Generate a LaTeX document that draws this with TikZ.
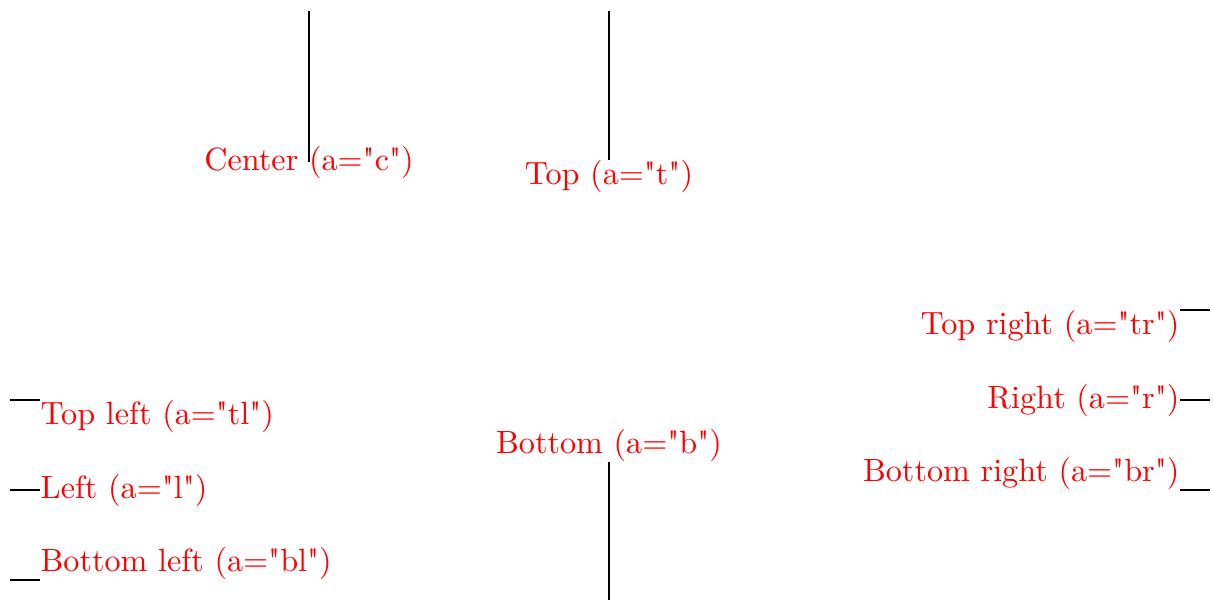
\documentclass[tikz,border=0pt]{standalone}
\usepackage{fontspec}
\newfontfamily\lmplain{lmroman10-regular}[Extension=.otf]
\tikzset{lbl/.style={text=red,inner sep=0pt,scale=0.916,transform shape,font=\lmplain}}
\begin{document}
\begin{tikzpicture}[x=0.1mm,y=-0.1mm]
  \useasboundingbox (0,0) rectangle (1213,602);

  % vertical anchors
  \node[lbl,anchor=center] (ctr) at (309,162) {Center (a="c")};
  \coordinate (ctrend) at (309,11);
  \draw (ctrend) to (ctr.center);

  \node[lbl,anchor=north] (top) at (609,160) {Top (a="t")};
  \coordinate (topend) at (609,11);
  \draw (topend) to (top.north);

  \node[lbl,anchor=south] (bot) at (609,462) {Bottom (a="b")};
  \coordinate (botend) at (609,600);
  \draw (botend) to (bot.south);

  % left side
  \node[lbl,anchor=north west] (tl) at (40,400) {Top left (a="tl")};
  \coordinate (tlend) at (10,400);
  \draw (tlend) to (tl.north west);

  \node[lbl,anchor=west] (lft) at (40,490) {Left (a="l")};
  \coordinate (lftend) at (10,490);
  \draw (lftend) to (lft.west);

  \node[lbl,anchor=south west] (bl) at (40,580) {Bottom left (a="bl")};
  \coordinate (blend) at (10,580);
  \draw (blend) to (bl.south west);

  % right side
  \node[lbl,anchor=north east] (tr) at (1180,310) {Top right (a="tr")};
  \coordinate (trend) at (1210,310);
  \draw (trend) to (tr.north east);

  \node[lbl,anchor=east] (rgt) at (1180,400) {Right (a="r")};
  \coordinate (rgtend) at (1210,400);
  \draw (rgtend) to (rgt.east);

  \node[lbl,anchor=south east] (br) at (1180,490) {Bottom right (a="br")};
  \coordinate (brend) at (1210,490);
  \draw (brend) to (br.south east);
\end{tikzpicture}
\end{document}
